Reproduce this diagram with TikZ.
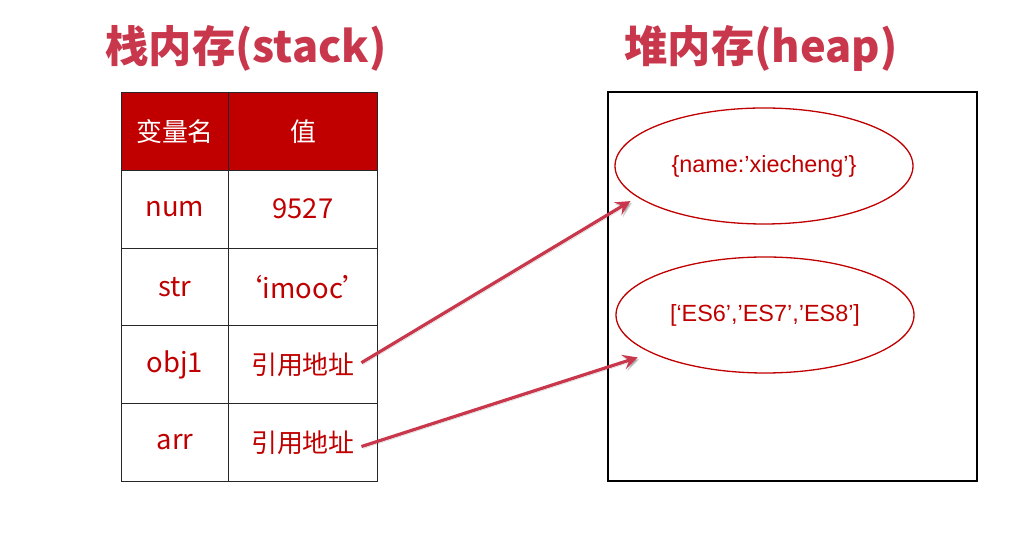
\documentclass[tikz,border=0pt]{standalone}
\usepackage{fontspec}
\setmainfont{Noto Sans CJK SC}
\newfontfamily\lib{Liberation Sans}
\usetikzlibrary{arrows.meta,calc,shapes.geometric}
\definecolor{dred}{HTML}{C00000}
\definecolor{tred}{HTML}{C8374B}
\begin{document}
\begin{tikzpicture}[x=1bp,y=1bp,
  title/.style={text=tred, font=\fontsize{43.5}{50}\selectfont\bfseries, inner sep=0},
  cell/.style={draw=black!85, line width=0.9bp, minimum width=#1, minimum height=77.8bp,
    inner sep=0, anchor=north west, font=\fontsize{26}{30}\selectfont, text=dred},
  lat/.style={font=\fontsize{27.5}{32}\selectfont},
  head/.style={cell=#1, fill=dred, text=white},
  heap/.style={draw=black, line width=1.3bp, minimum width=369bp, minimum height=389bp, inner sep=0},
  obj/.style={draw=dred, line width=1.3bp, ellipse, minimum width=298bp, minimum height=116bp,
    inner sep=0, text=dred, font=\lib\fontsize{23.5}{28}\selectfont},
  arr/.style={draw=tred, line width=3.2bp, -{Stealth[length=15bp,width=15bp,inset=6bp]},
    preaction={draw=black, opacity=0.18, transform canvas={shift={(1.5,-2)}}}}
]
\useasboundingbox (0,0) rectangle (1029,536);
% titles
\node[title] (t1) at (246,488) {栈内存(stack)};
\node[title] (t2) at (761,488) {堆内存(heap)};
% table
\node[head=107bp] (h1) at (121,444) {变量名};
\node[head=149bp] (h2) at (228,444) {值};
\node[cell=107bp, lat] (n2) at (121,366.2) {num};
\node[cell=149bp, lat] (v2) at (228,366.2) {9527};
\node[cell=107bp, lat] (n3) at (121,288.4) {str};
\node[cell=149bp, lat] (v3) at (228,288.4) {‘imooc’};
\node[cell=107bp, lat] (n4) at (121,210.6) {obj1};
\node[cell=149bp] (v4) at (228,210.6) {引用地址};
\node[cell=107bp, lat] (n5) at (121,132.8) {arr};
\node[cell=149bp] (v5) at (228,132.8) {引用地址};
% heap
\node[heap] (hp) at (792.5,249.5) {};
\node[obj] (e1) at (764,370) {\{name:’xiecheng’\}};
\node[obj] (e2) at (765,221) {[‘ES6’,’ES7’,’ES8’]};
% arrows
\draw[arr] ([shift={(58.5,2)}]v4.center) -- ([shift={(-10,-2)}]e1.195);
\draw[arr] ([shift={(58.5,-4)}]v5.center) -- ([shift={(-12,-5)}]e2.198);
\end{tikzpicture}
\end{document}
